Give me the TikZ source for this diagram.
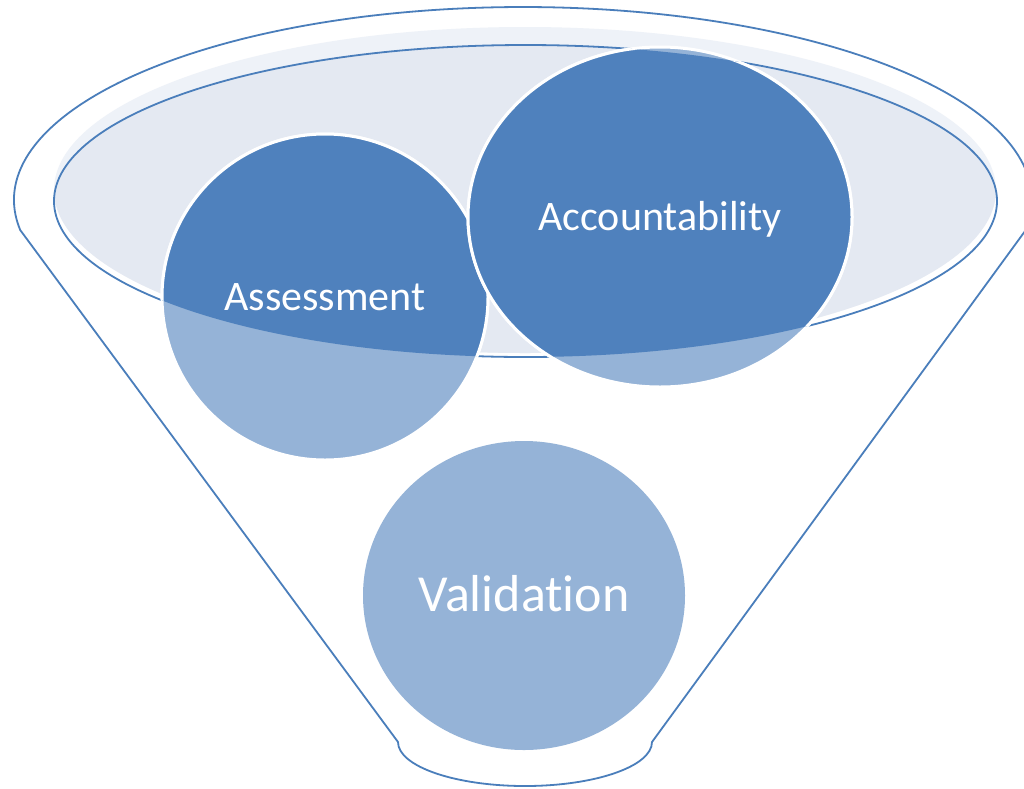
\documentclass[tikz,border=0pt]{standalone}
\usepackage{fontspec}
\setmainfont{Carlito}[Ligatures=NoCommon]
\usetikzlibrary{shapes.geometric}
\definecolor{dk}{HTML}{4F81BD}
\definecolor{lt}{HTML}{95B3D7}
\definecolor{ln}{HTML}{4A7EBB}
\definecolor{fa}{HTML}{EEF2F8}
\definecolor{fb}{HTML}{E4E9F2}
\begin{document}
\begin{tikzpicture}[x=1pt,y=-1pt,
  funnelline/.style={draw=ln, line width=1.8pt},
  bubble/.style={inner sep=0pt, outer sep=0pt, fill=lt, draw=white, line width=3pt},
  lbl/.style={text=white, font=\fontsize{42}{48}\selectfont, anchor=base, inner sep=0pt}]
\useasboundingbox[fill=white] (0,0) rectangle (1024,788);
% funnel outline
\path[funnelline] (20.2,230) arc[start angle=171.06, end angle=368.94, x radius=509, y radius=193]
  -- (652,742) arc[start angle=0, end angle=180, x radius=127, y radius=44] -- cycle;
% mouth fill
\fill[fa] (525,190) ellipse[x radius=471, y radius=163];
\begin{scope}
  \clip (525.5,201) ellipse[x radius=471.5, y radius=156];
  \fill[fb] (525,190) ellipse[x radius=471, y radius=163];
\end{scope}
\draw[funnelline] (525.5,201) ellipse[x radius=471.5, y radius=156];
% Assessment
\node[bubble, circle, minimum size=326pt] (assess) at (325,297) {};
\begin{scope}
  \clip (525.5,201) ellipse[x radius=471.5, y radius=156];
  \fill[dk] (325,297) circle[radius=163];
  \draw[white, line width=3pt] (325,297) circle[radius=163];
\end{scope}
% Accountability
\node[bubble, ellipse, minimum width=384pt, minimum height=340pt] (account) at (660,217) {};
\begin{scope}
  \clip (525.5,201) ellipse[x radius=471.5, y radius=156];
  \fill[dk] (660,217) ellipse[x radius=192, y radius=170];
  \draw[white, line width=3pt] (660,217) ellipse[x radius=192, y radius=170];
\end{scope}
% Validation
\node[ellipse, inner sep=0pt, fill=lt, minimum width=322pt, minimum height=309pt] (valid) at (524,595.5) {};
% labels
\node[lbl] (assesslbl) at (325,310) {Assessment};
\node[lbl] (accountlbl) at (660,230) {Accountability};
\node[lbl, font=\fontsize{52}{60}\selectfont] (validlbl) at (524,611) {Validation};
\end{tikzpicture}
\end{document}
